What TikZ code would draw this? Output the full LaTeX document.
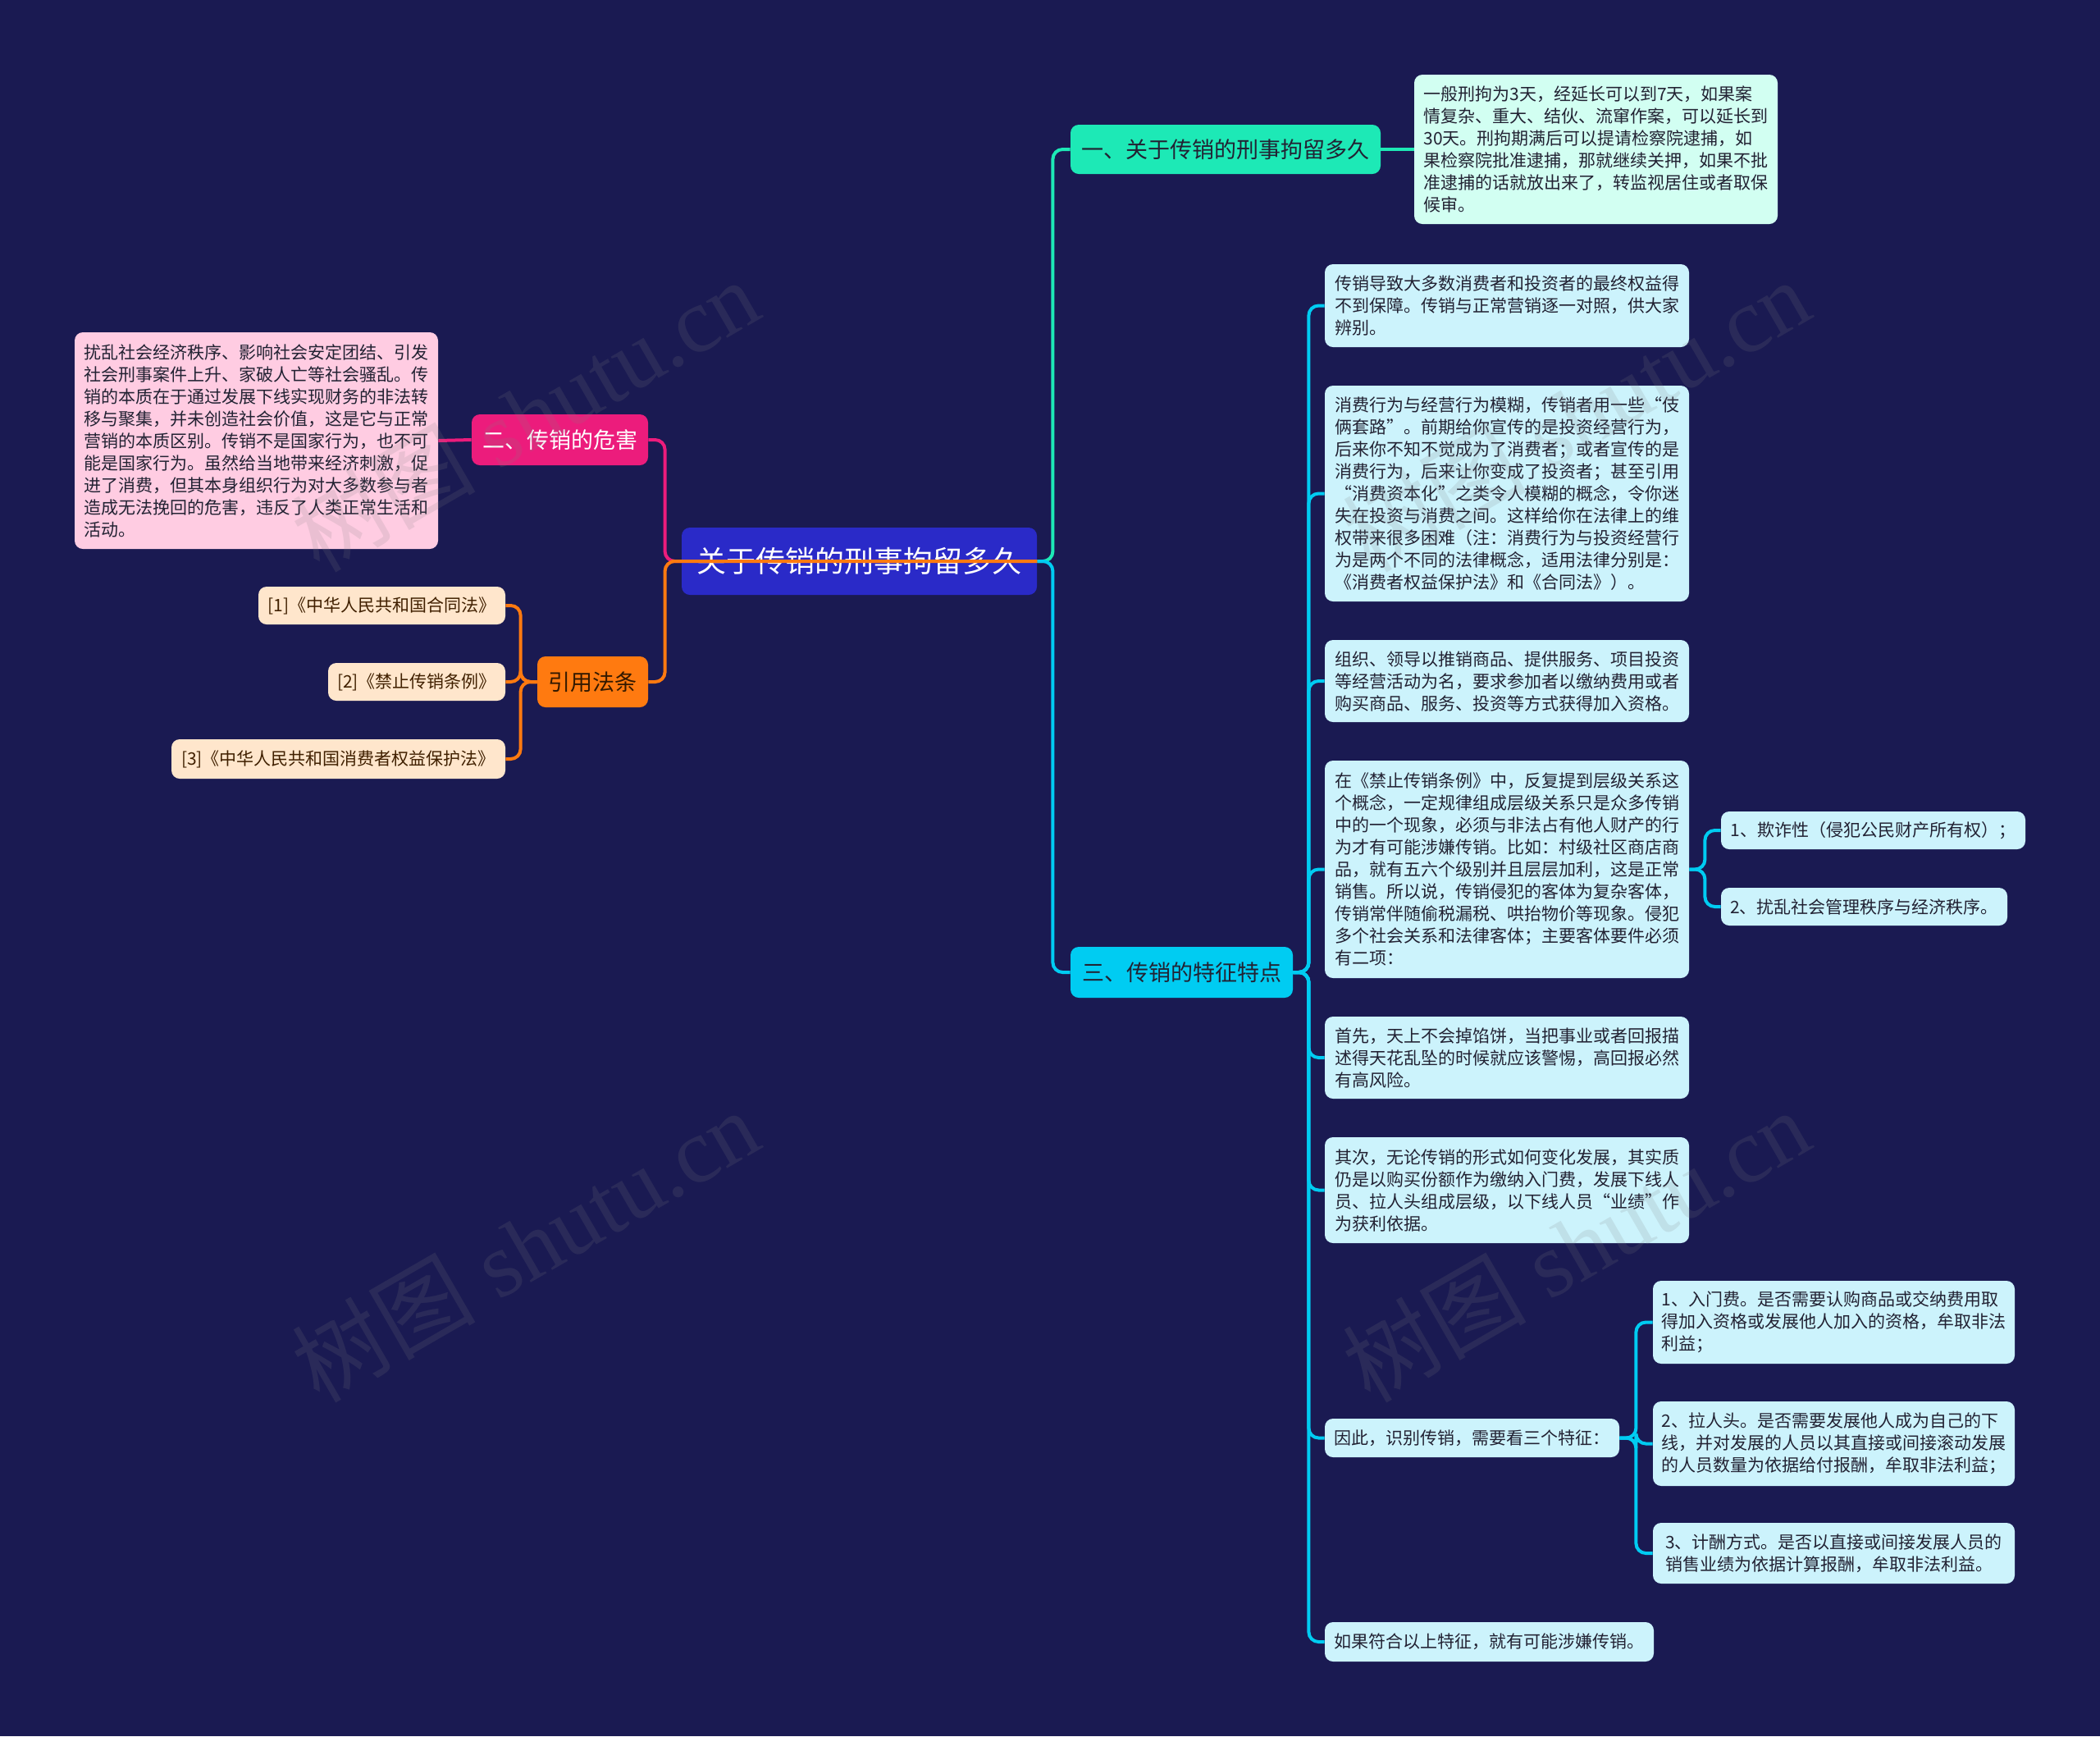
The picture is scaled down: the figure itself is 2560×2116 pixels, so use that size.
\documentclass[tikz,border=0pt]{standalone}
\usepackage{fontspec}
\setmainfont{Noto Sans CJK SC}
\newfontfamily\wmfont{Liberation Serif}
\newfontfamily\wmcjk{Noto Sans CJK SC}
\usetikzlibrary{calc}
\definecolor{bgc}{HTML}{1A1A52}
\definecolor{rootc}{HTML}{2A2AC8}
\definecolor{tealc}{HTML}{1DE9B6}
\definecolor{tealleaf}{HTML}{D2FFF2}
\definecolor{pinkc}{HTML}{EC1C7C}
\definecolor{pinkleaf}{HTML}{FFCCE2}
\definecolor{orangec}{HTML}{FF7A10}
\definecolor{orangeleaf}{HTML}{FFE6CC}
\definecolor{cyanc}{HTML}{00CCF2}
\definecolor{cyanleaf}{HTML}{CCF3FC}
\definecolor{darktext}{HTML}{222233}
\tikzset{
  boxbase/.style={rounded corners=5pt, inner sep=5pt, align=left},
  leaf/.style={boxbase, text=darktext, font=\fontsize{10.5pt}{13.5pt}\selectfont},
  branch/.style={boxbase, font=\fontsize{13.5pt}{16pt}\selectfont},
  conn/.style={line width=2pt, rounded corners=6pt},
  wm/.style={text=gray, text opacity=0.16, font=\fontsize{56pt}{64pt}\wmfont, rotate=30}
}
\begin{document}
\begin{tikzpicture}[x=0.5pt,y=-0.5pt]
\fill[bgc] (0,0) rectangle (2560,2116);
\useasboundingbox (0,0) rectangle (2560,2116);

% root
\node[boxbase, fill=rootc, text=white, font=\fontsize{18pt}{22pt}\selectfont,
  minimum width=216.5pt, minimum height=41pt, align=center] (root) at (1047.5,684) {关于传销的刑事拘留多久};

% branches
\node[branch, fill=tealc, text=darktext, minimum width=189pt, minimum height=30pt, align=center] (b1) at (1494,182) {一、关于传销的刑事拘留多久};
\node[branch, fill=pinkc, text=white, minimum width=107.5pt, minimum height=31pt, align=center] (b2) at (682.5,536) {二、传销的危害};
\node[branch, fill=orangec, text={black!80!orange}, minimum width=67.5pt, minimum height=31pt, align=center] (b3) at (722.5,831) {引用法条};
\node[branch, fill=cyanc, text=darktext, minimum width=135.5pt, minimum height=31pt, align=center] (b4) at (1440.5,1185) {三、传销的特征特点};

% leaf of b1
\node[leaf, fill=tealleaf, minimum width=221.5pt, minimum height=91pt] (a1) at (1945.5,182) {一般刑拘为3天，经延长可以到7天，如果案\\情复杂、重大、结伙、流窜作案，可以延长到\\30天。刑拘期满后可以提请检察院逮捕，如\\果检察院批准逮捕，那就继续关押，如果不批\\准逮捕的话就放出来了，转监视居住或者取保\\候审。};

% leaf of b2
\node[leaf, fill=pinkleaf, minimum width=221.5pt, minimum height=132pt] (p1) at (312.5,537) {扰乱社会经济秩序、影响社会安定团结、引发\\社会刑事案件上升、家破人亡等社会骚乱。传\\销的本质在于通过发展下线实现财务的非法转\\移与聚集，并未创造社会价值，这是它与正常\\营销的本质区别。传销不是国家行为，也不可\\能是国家行为。虽然给当地带来经济刺激，促\\进了消费，但其本身组织行为对大多数参与者\\造成无法挽回的危害，违反了人类正常生活和\\活动。};

% refs
\node[leaf, fill=orangeleaf, text={black!75!orange}, minimum width=150.5pt, minimum height=23pt, align=center] (r1) at (465.5,738) {[1]《中华人民共和国合同法》};
\node[leaf, fill=orangeleaf, text={black!75!orange}, minimum width=108pt, minimum height=23pt, align=center] (r2) at (508,831) {[2]《禁止传销条例》};
\node[leaf, fill=orangeleaf, text={black!75!orange}, minimum width=203.5pt, minimum height=24pt, align=center] (r3) at (412.5,925) {[3]《中华人民共和国消费者权益保护法》};

% leaves of b4
\node[leaf, fill=cyanleaf, minimum width=222pt, minimum height=50.5pt] (l1) at (1837,372.5) {传销导致大多数消费者和投资者的最终权益得\\不到保障。传销与正常营销逐一对照，供大家\\辨别。};
\node[leaf, fill=cyanleaf, minimum width=222pt, minimum height=131.5pt] (l2) at (1837,601.5) {消费行为与经营行为模糊，传销者用一些“伎\\俩套路”。前期给你宣传的是投资经营行为，\\后来你不知不觉成为了消费者；或者宣传的是\\消费行为，后来让你变成了投资者；甚至引用\\“消费资本化”之类令人模糊的概念，令你迷\\失在投资与消费之间。这样给你在法律上的维\\权带来很多困难（注：消费行为与投资经营行\\为是两个不同的法律概念，适用法律分别是：\\《消费者权益保护法》和《合同法》）。};
\node[leaf, fill=cyanleaf, minimum width=222pt, minimum height=50pt] (l3) at (1837,830) {组织、领导以推销商品、提供服务、项目投资\\等经营活动为名，要求参加者以缴纳费用或者\\购买商品、服务、投资等方式获得加入资格。};
\node[leaf, fill=cyanleaf, minimum width=222pt, minimum height=132.5pt] (l4) at (1837,1059.5) {在《禁止传销条例》中，反复提到层级关系这\\个概念，一定规律组成层级关系只是众多传销\\中的一个现象，必须与非法占有他人财产的行\\为才有可能涉嫌传销。比如：村级社区商店商\\品，就有五六个级别并且层层加利，这是正常\\销售。所以说，传销侵犯的客体为复杂客体，\\传销常伴随偷税漏税、哄抬物价等现象。侵犯\\多个社会关系和法律客体；主要客体要件必须\\有二项：};
\node[leaf, fill=cyanleaf, minimum width=222pt, minimum height=50pt] (l5) at (1837,1289) {首先，天上不会掉馅饼，当把事业或者回报描\\述得天花乱坠的时候就应该警惕，高回报必然\\有高风险。};
\node[leaf, fill=cyanleaf, minimum width=222pt, minimum height=64.5pt] (l6) at (1837,1450.5) {其次，无论传销的形式如何变化发展，其实质\\仍是以购买份额作为缴纳入门费，发展下线人\\员、拉人头组成层级，以下线人员“业绩”作\\为获利依据。};
\node[leaf, fill=cyanleaf, minimum width=179.5pt, minimum height=23.5pt] (l7) at (1794.5,1752.5) {因此，识别传销，需要看三个特征：};
\node[leaf, fill=cyanleaf, minimum width=200.5pt, minimum height=24pt] (l8) at (1815.5,2001) {如果符合以上特征，就有可能涉嫌传销。};

% subs of l4
\node[leaf, fill=cyanleaf, minimum width=185.5pt, minimum height=23pt] (s1) at (2283.5,1012) {1、欺诈性（侵犯公民财产所有权）；};
\node[leaf, fill=cyanleaf, minimum width=174.5pt, minimum height=23pt] (s2) at (2272.5,1105) {2、扰乱社会管理秩序与经济秩序。};

% subs of l7
\node[leaf, fill=cyanleaf, minimum width=220.5pt, minimum height=50.5pt] (t1) at (2235.5,1611.5) {1、入门费。是否需要认购商品或交纳费用取\\得加入资格或发展他人加入的资格，牟取非法\\利益；};
\node[leaf, fill=cyanleaf, minimum width=220.5pt, minimum height=51.5pt] (t2) at (2235.5,1759.5) {2、拉人头。是否需要发展他人成为自己的下\\线，并对发展的人员以其直接或间接滚动发展\\的人员数量为依据给付报酬，牟取非法利益；};
\node[leaf, fill=cyanleaf, minimum width=220.5pt, minimum height=37pt] (t3) at (2235.5,1893) {3、计酬方式。是否以直接或间接发展人员的\\销售业绩为依据计算报酬，牟取非法利益。};

% connectors
\draw[conn, tealc] (root.east) -- ++(19,0) |- (b1.west);
\draw[conn, cyanc] (root.east) -- ++(19,0) |- (b4.west);
\draw[conn, pinkc] (root.west) -- ++(-20,0) |- (b2.east);
\draw[conn, orangec] (root.east) -- (root.west) -- ++(-20,0) |- (b3.east);

\draw[conn, tealc] (b1.east) -- (a1.west);
\draw[conn, pinkc] (b2.west) -- (p1.east);

\foreach \r in {r1,r2,r3}
  \draw[conn, orangec] (b3.west) -- ++(-20,0) |- (\r.east);

\foreach \l in {l1,l2,l3,l4,l5,l6,l7,l8}
  \draw[conn, cyanc] (b4.east) -- ++(19,0) |- (\l.west);

\foreach \s in {s1,s2}
  \draw[conn, cyanc] (l4.east) -- ++(19,0) |- (\s.west);

\foreach \t in {t1,t2,t3}
  \draw[conn, cyanc] (l7.east) -- ++(20,0) |- (\t.west);

% watermarks
\node[wm] (w1) at (640,506) {{\wmcjk 树图} shutu.cn};
\node[wm] (w2) at (640,1518) {{\wmcjk 树图} shutu.cn};
\node[wm] (w3) at (1921,506) {{\wmcjk 树图} shutu.cn};
\node[wm] (w4) at (1921,1518) {{\wmcjk 树图} shutu.cn};
\end{tikzpicture}
\end{document}
